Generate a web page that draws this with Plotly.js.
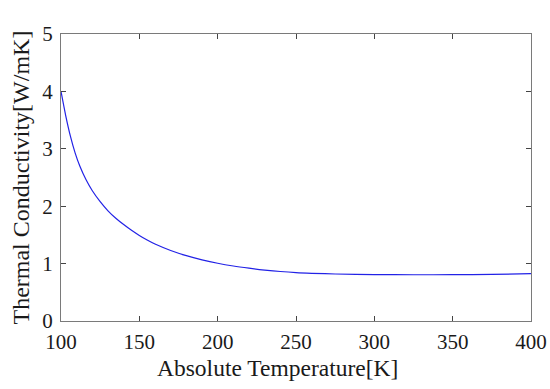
<!DOCTYPE html>
<html>
<head>
<meta charset="utf-8">
<script src="https://cdn.plot.ly/plotly-3.0.1.min.js"></script>
<style>html,body{margin:0;padding:0;background:#fff;}#plot{width:550px;height:389px;}</style>
</head>
<body>
<div id="plot"></div>
<script>
const temperature = [100, 103, 106, 109, 112, 116, 120, 125, 130, 135, 140, 145, 150, 155, 160, 170, 180, 190, 200, 210, 220, 230, 240, 250, 260, 275, 300, 325, 350, 375, 400];
const conductivity = [4.00, 3.58, 3.22, 2.93, 2.70, 2.46, 2.27, 2.08, 1.92, 1.79, 1.68, 1.58, 1.49, 1.41, 1.34, 1.228, 1.138, 1.066, 1.006, 0.958, 0.92, 0.888, 0.862, 0.843, 0.831, 0.819, 0.809, 0.806, 0.807, 0.812, 0.824];
const xTicks = [100, 150, 200, 250, 300, 350, 400];
const yTicks = [0, 1, 2, 3, 4, 5];
const xTitle = 'Absolute Temperature[K]';
const yTitle = 'Thermal Conductivity[W/mK]';

const font = 'Liberation Serif';
const axisCommon = {
  showgrid: false, zeroline: false,
  showline: true, linecolor: '#7a7a7a', linewidth: 1, mirror: 'ticks',
  ticks: 'inside', ticklen: 5, tickcolor: '#444', tickwidth: 1,
  tickfont: {family: font, size: 21, color: '#1a1a1a'}
};
const trace = {
  x: temperature, y: conductivity, type: 'scatter', mode: 'lines',
  line: {color: '#2222e6', width: 1.2, shape: 'spline', smoothing: 0.8}
};
const layout = {
  width: 550, height: 389,
  margin: {l: 61, r: 19, t: 34, b: 68},
  paper_bgcolor: '#fff', plot_bgcolor: '#fff',
  font: {family: font, color: '#1a1a1a'},
  showlegend: false,
  xaxis: Object.assign({}, axisCommon, {range: [100, 400], tickvals: xTicks, ticktext: xTicks.map(String), ticklabelstandoff: 2}),
  yaxis: Object.assign({}, axisCommon, {range: [0, 5], tickvals: yTicks, ticktext: yTicks.map(String), ticklabelstandoff: 3}),
  annotations: [
    {text: xTitle, xref: 'paper', yref: 'paper', x: (277 - 61) / 470, y: -0.165, xanchor: 'center', yanchor: 'middle', showarrow: false, font: {family: font, size: 23.5, color: '#1a1a1a'}},
    {text: yTitle, xref: 'paper', yref: 'paper', x: (20 - 61) / 470, y: 0.5, xanchor: 'center', yanchor: 'middle', textangle: -90, showarrow: false, font: {family: font, size: 24, color: '#1a1a1a'}}
  ]
};
Plotly.newPlot('plot', [trace], layout, {displayModeBar: false, staticPlot: true});
</script>
</body>
</html>
